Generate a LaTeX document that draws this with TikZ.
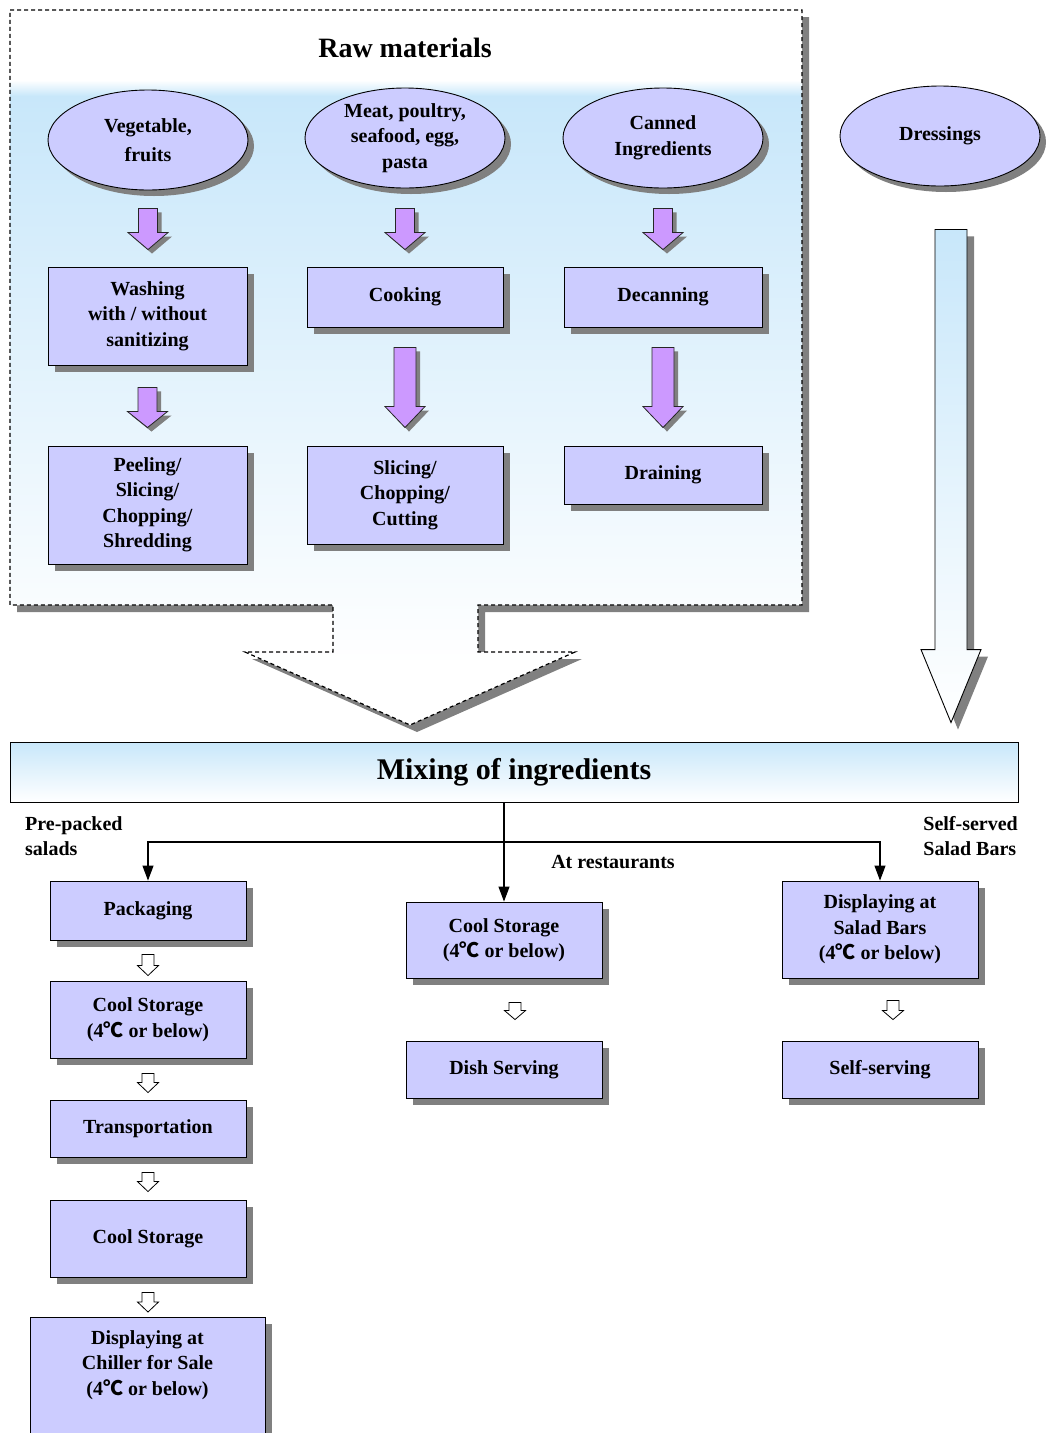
\documentclass[tikz,border=0pt]{standalone}
\usepackage{fontspec}
\setmainfont{Liberation Serif}
\newfontfamily\cjkfont{Noto Sans CJK SC}
\usetikzlibrary{shapes.geometric,shadows,arrows.meta,calc}
\definecolor{boxfill}{RGB}{204,204,255}
\definecolor{shadowgray}{RGB}{128,128,128}
\definecolor{arrowviolet}{RGB}{204,153,255}
\definecolor{skyblue}{RGB}{200,231,250}
\newcommand{\degC}{{\cjkfont ℃}}
\newcommand{\boxfont}{\bfseries\fontsize{20}{25.5}\selectfont}

% block arrow: #1 style, #2 top point (gives x), #3 tip point,
% #4 shaft half width, #5 head half width, #6 head length
\newcommand{\blockarrow}[6]{%
  \path[#1] let \p1=(#2), \p2=(#3) in
    (\x1-#4pt,\y1) -- (\x1+#4pt,\y1) -- (\x1+#4pt,\y2+#6pt) -- (\x1+#5pt,\y2+#6pt)
    -- (\x1,\y2) -- (\x1-#5pt,\y2+#6pt) -- (\x1-#4pt,\y2+#6pt) -- cycle;}

\tikzset{
  grayshadow/.style={drop shadow={shadow xshift=#1pt, shadow yshift=-#1pt, fill=shadowgray, opacity=1}},
  stepbox/.style={draw=black, line width=0.9pt, fill=boxfill, grayshadow=7,
    align=center, inner sep=0pt, font=\boxfont},
  source/.style={ellipse, draw=black, line width=0.9pt, fill=boxfill, grayshadow=6,
    minimum width=200pt, minimum height=100pt, align=center, inner sep=0pt, font=\boxfont},
  plain/.style={align=left, inner sep=0pt, font=\boxfont},
  varrow/.style={draw=black!85, line width=0.8pt, fill=arrowviolet, grayshadow=4},
  harrow/.style={draw=black, line width=0.8pt, fill=white},
  dressarrow/.style={draw=black, line width=0.9pt, top color=skyblue, bottom color=white, grayshadow=7},
  conn/.style={draw=black, line width=1.1pt, -{Triangle[width=11pt,length=15pt]}},
  rawpath/.style={insert path={(10,10) -- (802,10) -- (802,605) -- (478,605) -- (478,652)
    -- (575,652) -- (410,725) -- (245,652) -- (333,652) -- (333,605) -- (10,605) -- cycle}}
}

\begin{document}
\begin{tikzpicture}[x=1pt,y=-1pt]
\useasboundingbox (0,0) rectangle (1047,1433);

% raw materials container with its arrow towards the mixing stage
\begin{scope}[shift={(7,7)}]
  \path[rawpath, fill=shadowgray];
\end{scope}
\begin{scope}
  \clip[rawpath];
  \fill[white] (0,0) rectangle (1047,740);
  \shade[top color=white, bottom color=skyblue] (10,80) rectangle (802,96);
  \shade[top color=skyblue, bottom color=white] (10,96) rectangle (802,665);
\end{scope}
\path[rawpath, draw=black, line width=1.2pt, dash pattern=on 4pt off 3pt];

\node[font=\bfseries\fontsize{28}{32}\selectfont] (rawtitle) at (405,48) {Raw materials};

% raw material sources
\node[source] (veg) at (148,140) {Vegetable,\\[4pt]fruits};
\node[source] (meat) at (405,138) {Meat, poultry,\\seafood, egg,\\pasta};
\node[source] (canned) at (663,138) {Canned\\Ingredients};
\node[source] (dress) at (940,136) {Dressings};

% preparation steps
\node[stepbox, minimum width=199pt, minimum height=98pt] (wash) at (147.5,316) {Washing\\with / without\\sanitizing};
\node[stepbox, minimum width=196pt, minimum height=60pt] (cook) at (405,297) {Cooking};
\node[stepbox, minimum width=198pt, minimum height=60pt] (decan) at (663,297) {Decanning};
\node[stepbox, minimum width=199pt, minimum height=118pt] (peel) at (147.5,505) {Peeling/\\Slicing/\\Chopping/\\Shredding};
\node[stepbox, minimum width=196pt, minimum height=98pt] (slice) at (405,495) {Slicing/\\Chopping/\\Cutting};
\node[stepbox, minimum width=198pt, minimum height=58pt] (drain) at (663,475) {Draining};

% violet flow arrows
\blockarrow{varrow}{$(veg.south)+(0,18)$}{$(wash.north)+(0,-17)$}{9.5}{20}{17}
\blockarrow{varrow}{$(meat.south)+(0,20)$}{$(cook.north)+(0,-17)$}{9.5}{20}{17}
\blockarrow{varrow}{$(canned.south)+(0,20)$}{$(decan.north)+(0,-17)$}{9.5}{20}{17}
\blockarrow{varrow}{$(wash.south)+(0,22)$}{$(peel.north)+(0,-18)$}{9.5}{20}{16}
\blockarrow{varrow}{$(cook.south)+(0,20)$}{$(slice.north)+(0,-18)$}{11}{20}{21}
\blockarrow{varrow}{$(decan.south)+(0,20)$}{$(drain.north)+(0,-18)$}{11}{20}{21}

% mixing stage
\node[draw=black, line width=0.9pt, top color=skyblue, bottom color=white,
  minimum width=1008pt, minimum height=60pt, inner sep=0pt,
  font=\bfseries\fontsize{30}{34}\selectfont] (mix) at (514,772) {\raisebox{-2pt}{Mixing of ingredients}};

% dressings go straight to mixing
\blockarrow{dressarrow}{$(dress.south)+(11,43)$}{$(mix.north)+(0,-19)$}{16}{30}{73}

% serving routes
\node[stepbox, minimum width=196pt, minimum height=59pt] (pack) at (148,910.5) {Packaging};
\node[stepbox, minimum width=196pt, minimum height=77pt] (cool1) at (148,1019.5) {Cool Storage\\(4\degC{} or below)};
\node[stepbox, minimum width=196pt, minimum height=57pt] (trans) at (148,1128.5) {Transportation};
\node[stepbox, minimum width=196pt, minimum height=77pt] (cool2) at (148,1238.5) {Cool Storage};
\node[stepbox, minimum width=235pt, minimum height=130pt, anchor=north] (chill) at (147.5,1317) {};
\node[plain, align=center] (chilltext) at (147.5,1365) {Displaying at\\Chiller for Sale\\(4\degC{} or below)};

\node[stepbox, minimum width=196pt, minimum height=76pt] (cool3) at (504,940) {Cool Storage\\(4\degC{} or below)};
\node[stepbox, minimum width=196pt, minimum height=57pt] (dish) at (504,1069.5) {Dish Serving};

\node[stepbox, minimum width=196pt, minimum height=97pt] (salad) at (880,929.5) {Displaying at\\Salad Bars\\(4\degC{} or below)};
\node[stepbox, minimum width=196pt, minimum height=57pt] (selfserve) at (880,1069.5) {Self-serving};

% route labels
\node[plain, anchor=west] (prepacked) at (25,836) {Pre-packed\\salads};
\node[plain, anchor=east] (selfserved) at (1018,836) {Self-served\\Salad Bars};
\node[plain] (restaurants) at (613,862) {At restaurants};

% branching connectors
\coordinate (branch) at (504,842);
\draw[conn] (mix.south -| cool3.north) -- (cool3.north);
\draw[conn] (branch) -| (pack.north);
\draw[conn] (branch) -| (salad.north);

% small hollow arrows between steps
\blockarrow{harrow}{$(pack.south)+(0,14)$}{$(cool1.north)+(0,-5)$}{6}{10.5}{10}
\blockarrow{harrow}{$(cool1.south)+(0,15)$}{$(trans.north)+(0,-7)$}{6}{10.5}{10}
\blockarrow{harrow}{$(trans.south)+(0,15)$}{$(cool2.north)+(0,-8)$}{6}{10.5}{10}
\blockarrow{harrow}{$(cool2.south)+(0,15)$}{$(chill.north)+(0,-5)$}{6}{10.5}{10}
\blockarrow{harrow}{$(cool3.south)+(11,24)$}{$(dish.north)+(11,-21)$}{6}{10.5}{9}
\blockarrow{harrow}{$(salad.south)+(13,22)$}{$(selfserve.north)+(13,-21)$}{6}{10.5}{9}
\end{tikzpicture}
\end{document}
